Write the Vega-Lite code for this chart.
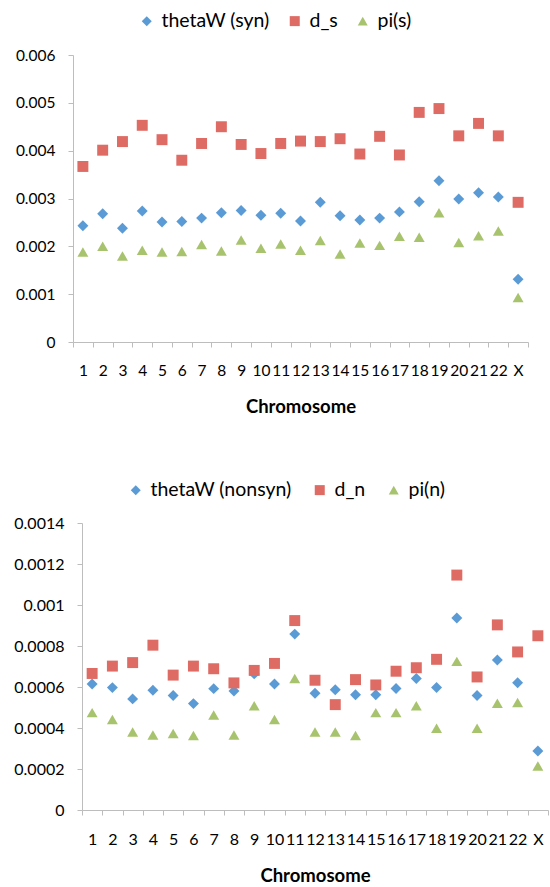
{
  "$schema": "https://vega.github.io/schema/vega-lite/v6.json",
  "padding": {"top": 11, "left": 13, "right": 0, "bottom": 0},
  "background": "white",
  "spacing": 64,
  "bounds": "full",
  "center": false,
  "datasets": {
    "syn": [
      {"chr": "1", "series": "thetaW (syn)", "value": 0.00243},
      {"chr": "2", "series": "thetaW (syn)", "value": 0.00268},
      {"chr": "3", "series": "thetaW (syn)", "value": 0.00238},
      {"chr": "4", "series": "thetaW (syn)", "value": 0.00274},
      {"chr": "5", "series": "thetaW (syn)", "value": 0.00251},
      {"chr": "6", "series": "thetaW (syn)", "value": 0.00252},
      {"chr": "7", "series": "thetaW (syn)", "value": 0.00259},
      {"chr": "8", "series": "thetaW (syn)", "value": 0.0027},
      {"chr": "9", "series": "thetaW (syn)", "value": 0.00275},
      {"chr": "10", "series": "thetaW (syn)", "value": 0.00265},
      {"chr": "11", "series": "thetaW (syn)", "value": 0.00269},
      {"chr": "12", "series": "thetaW (syn)", "value": 0.00253},
      {"chr": "13", "series": "thetaW (syn)", "value": 0.00292},
      {"chr": "14", "series": "thetaW (syn)", "value": 0.00264},
      {"chr": "15", "series": "thetaW (syn)", "value": 0.00255},
      {"chr": "16", "series": "thetaW (syn)", "value": 0.00259},
      {"chr": "17", "series": "thetaW (syn)", "value": 0.00272},
      {"chr": "18", "series": "thetaW (syn)", "value": 0.00293},
      {"chr": "19", "series": "thetaW (syn)", "value": 0.00337},
      {"chr": "20", "series": "thetaW (syn)", "value": 0.00299},
      {"chr": "21", "series": "thetaW (syn)", "value": 0.00312},
      {"chr": "22", "series": "thetaW (syn)", "value": 0.00303},
      {"chr": "X", "series": "thetaW (syn)", "value": 0.00131},
      {"chr": "1", "series": "d_s", "value": 0.00367},
      {"chr": "2", "series": "d_s", "value": 0.00401},
      {"chr": "3", "series": "d_s", "value": 0.00419},
      {"chr": "4", "series": "d_s", "value": 0.00453},
      {"chr": "5", "series": "d_s", "value": 0.00423},
      {"chr": "6", "series": "d_s", "value": 0.0038},
      {"chr": "7", "series": "d_s", "value": 0.00415},
      {"chr": "8", "series": "d_s", "value": 0.0045},
      {"chr": "9", "series": "d_s", "value": 0.00413},
      {"chr": "10", "series": "d_s", "value": 0.00394},
      {"chr": "11", "series": "d_s", "value": 0.00415},
      {"chr": "12", "series": "d_s", "value": 0.0042},
      {"chr": "13", "series": "d_s", "value": 0.00419},
      {"chr": "14", "series": "d_s", "value": 0.00425},
      {"chr": "15", "series": "d_s", "value": 0.00393},
      {"chr": "16", "series": "d_s", "value": 0.0043},
      {"chr": "17", "series": "d_s", "value": 0.00391},
      {"chr": "18", "series": "d_s", "value": 0.0048},
      {"chr": "19", "series": "d_s", "value": 0.00488},
      {"chr": "20", "series": "d_s", "value": 0.00431},
      {"chr": "21", "series": "d_s", "value": 0.00457},
      {"chr": "22", "series": "d_s", "value": 0.00431},
      {"chr": "X", "series": "d_s", "value": 0.00292},
      {"chr": "1", "series": "pi(s)", "value": 0.00188},
      {"chr": "2", "series": "pi(s)", "value": 0.002},
      {"chr": "3", "series": "pi(s)", "value": 0.0018},
      {"chr": "4", "series": "pi(s)", "value": 0.00192},
      {"chr": "5", "series": "pi(s)", "value": 0.00188},
      {"chr": "6", "series": "pi(s)", "value": 0.00189},
      {"chr": "7", "series": "pi(s)", "value": 0.00204},
      {"chr": "8", "series": "pi(s)", "value": 0.0019},
      {"chr": "9", "series": "pi(s)", "value": 0.00213},
      {"chr": "10", "series": "pi(s)", "value": 0.00196},
      {"chr": "11", "series": "pi(s)", "value": 0.00205},
      {"chr": "12", "series": "pi(s)", "value": 0.00192},
      {"chr": "13", "series": "pi(s)", "value": 0.00212},
      {"chr": "14", "series": "pi(s)", "value": 0.00184},
      {"chr": "15", "series": "pi(s)", "value": 0.00207},
      {"chr": "16", "series": "pi(s)", "value": 0.00202},
      {"chr": "17", "series": "pi(s)", "value": 0.00221},
      {"chr": "18", "series": "pi(s)", "value": 0.00219},
      {"chr": "19", "series": "pi(s)", "value": 0.0027},
      {"chr": "20", "series": "pi(s)", "value": 0.00208},
      {"chr": "21", "series": "pi(s)", "value": 0.00222},
      {"chr": "22", "series": "pi(s)", "value": 0.00232},
      {"chr": "X", "series": "pi(s)", "value": 0.00093}
    ],
    "nonsyn": [
      {"chr": "1", "series": "thetaW (nonsyn)", "value": 0.000615},
      {"chr": "2", "series": "thetaW (nonsyn)", "value": 0.000597},
      {"chr": "3", "series": "thetaW (nonsyn)", "value": 0.000542},
      {"chr": "4", "series": "thetaW (nonsyn)", "value": 0.000584},
      {"chr": "5", "series": "thetaW (nonsyn)", "value": 0.000559},
      {"chr": "6", "series": "thetaW (nonsyn)", "value": 0.000519},
      {"chr": "7", "series": "thetaW (nonsyn)", "value": 0.000592},
      {"chr": "8", "series": "thetaW (nonsyn)", "value": 0.00058},
      {"chr": "9", "series": "thetaW (nonsyn)", "value": 0.000664},
      {"chr": "10", "series": "thetaW (nonsyn)", "value": 0.000615},
      {"chr": "11", "series": "thetaW (nonsyn)", "value": 0.000858},
      {"chr": "12", "series": "thetaW (nonsyn)", "value": 0.00057},
      {"chr": "13", "series": "thetaW (nonsyn)", "value": 0.000587},
      {"chr": "14", "series": "thetaW (nonsyn)", "value": 0.000562},
      {"chr": "15", "series": "thetaW (nonsyn)", "value": 0.000562},
      {"chr": "16", "series": "thetaW (nonsyn)", "value": 0.000593},
      {"chr": "17", "series": "thetaW (nonsyn)", "value": 0.000641},
      {"chr": "18", "series": "thetaW (nonsyn)", "value": 0.000598},
      {"chr": "19", "series": "thetaW (nonsyn)", "value": 0.000937},
      {"chr": "20", "series": "thetaW (nonsyn)", "value": 0.000559},
      {"chr": "21", "series": "thetaW (nonsyn)", "value": 0.000732},
      {"chr": "22", "series": "thetaW (nonsyn)", "value": 0.000621},
      {"chr": "X", "series": "thetaW (nonsyn)", "value": 0.000288},
      {"chr": "1", "series": "d_n", "value": 0.000666},
      {"chr": "2", "series": "d_n", "value": 0.000702},
      {"chr": "3", "series": "d_n", "value": 0.000719},
      {"chr": "4", "series": "d_n", "value": 0.000804},
      {"chr": "5", "series": "d_n", "value": 0.000658},
      {"chr": "6", "series": "d_n", "value": 0.000702},
      {"chr": "7", "series": "d_n", "value": 0.000689},
      {"chr": "8", "series": "d_n", "value": 0.00062},
      {"chr": "9", "series": "d_n", "value": 0.000681},
      {"chr": "10", "series": "d_n", "value": 0.000715},
      {"chr": "11", "series": "d_n", "value": 0.000924},
      {"chr": "12", "series": "d_n", "value": 0.000633},
      {"chr": "13", "series": "d_n", "value": 0.000514},
      {"chr": "14", "series": "d_n", "value": 0.000636},
      {"chr": "15", "series": "d_n", "value": 0.00061},
      {"chr": "16", "series": "d_n", "value": 0.000677},
      {"chr": "17", "series": "d_n", "value": 0.000694},
      {"chr": "18", "series": "d_n", "value": 0.000735},
      {"chr": "19", "series": "d_n", "value": 0.001146},
      {"chr": "20", "series": "d_n", "value": 0.000649},
      {"chr": "21", "series": "d_n", "value": 0.000903},
      {"chr": "22", "series": "d_n", "value": 0.000771},
      {"chr": "X", "series": "d_n", "value": 0.00085},
      {"chr": "1", "series": "pi(n)", "value": 0.000475},
      {"chr": "2", "series": "pi(n)", "value": 0.000442},
      {"chr": "3", "series": "pi(n)", "value": 0.00038},
      {"chr": "4", "series": "pi(n)", "value": 0.000366},
      {"chr": "5", "series": "pi(n)", "value": 0.000373},
      {"chr": "6", "series": "pi(n)", "value": 0.000363},
      {"chr": "7", "series": "pi(n)", "value": 0.000463},
      {"chr": "8", "series": "pi(n)", "value": 0.000366},
      {"chr": "9", "series": "pi(n)", "value": 0.000508},
      {"chr": "10", "series": "pi(n)", "value": 0.000442},
      {"chr": "11", "series": "pi(n)", "value": 0.000641},
      {"chr": "12", "series": "pi(n)", "value": 0.00038},
      {"chr": "13", "series": "pi(n)", "value": 0.00038},
      {"chr": "14", "series": "pi(n)", "value": 0.000363},
      {"chr": "15", "series": "pi(n)", "value": 0.000475},
      {"chr": "16", "series": "pi(n)", "value": 0.000475},
      {"chr": "17", "series": "pi(n)", "value": 0.000508},
      {"chr": "18", "series": "pi(n)", "value": 0.000399},
      {"chr": "19", "series": "pi(n)", "value": 0.000725},
      {"chr": "20", "series": "pi(n)", "value": 0.000399},
      {"chr": "21", "series": "pi(n)", "value": 0.000521},
      {"chr": "22", "series": "pi(n)", "value": 0.000524},
      {"chr": "X", "series": "pi(n)", "value": 0.000215}
    ]
  },
  "vconcat": [
    {
      "data": {"name": "syn"},
      "width": 446,
      "height": 287,
      "mark": {"type": "point", "filled": true, "opacity": 1, "size": 120},
      "encoding": {
        "x": {
          "field": "chr", "type": "nominal", "sort": null,
          "scale": {"type": "band", "paddingInner": 0, "paddingOuter": 0, "range": [-9, 446]},
          "axis": {"title": "Chromosome", "tickBand": "extent", "labelFontSize": 15.5, "labelPadding": 16, "titlePadding": 19}
        },
        "y": {
          "field": "value", "type": "quantitative",
          "scale": {"domain": [0, 0.006], "nice": false, "zero": true},
          "axis": {"title": null, "offset": 9, "values": [0, 0.001, 0.002, 0.003, 0.004, 0.005, 0.006], "format": "~g", "labelFontSize": 15.5}
        },
        "color": {
          "field": "series", "type": "nominal", "sort": null,
          "scale": {"domain": ["thetaW (syn)", "d_s", "pi(s)"], "range": ["#5B9BD5", "#DE6B64", "#A8C36E"]},
          "legend": {"title": null, "orient": "none", "direction": "horizontal", "legendX": 55, "legendY": -44, "columnPadding": 15}
        },
        "shape": {
          "field": "series", "type": "nominal", "sort": null,
          "scale": {"domain": ["thetaW (syn)", "d_s", "pi(s)"], "range": ["diamond", "square", "triangle-up"]},
          "legend": {"title": null, "orient": "none", "direction": "horizontal", "legendX": 55, "legendY": -44, "columnPadding": 15}
        }
      }
    },
    {
      "data": {"name": "nonsyn"},
      "width": 466,
      "height": 287,
      "mark": {"type": "point", "filled": true, "opacity": 1, "size": 120},
      "encoding": {
        "x": {
          "field": "chr", "type": "nominal", "sort": null,
          "scale": {"type": "band", "paddingInner": 0, "paddingOuter": 0},
          "axis": {"title": "Chromosome", "tickBand": "extent", "labelFontSize": 16, "labelPadding": 16, "titlePadding": 19}
        },
        "y": {
          "field": "value", "type": "quantitative",
          "scale": {"domain": [0, 0.0014], "nice": false, "zero": true},
          "axis": {"title": null, "values": [0, 0.0002, 0.0004, 0.0006, 0.0008, 0.001, 0.0012, 0.0014], "format": "~g", "labelFontSize": 16}
        },
        "color": {
          "field": "series", "type": "nominal", "sort": null,
          "scale": {"domain": ["thetaW (nonsyn)", "d_n", "pi(n)"], "range": ["#5B9BD5", "#DE6B64", "#A8C36E"]},
          "legend": {"title": null, "orient": "none", "direction": "horizontal", "legendX": 44, "legendY": -43, "columnPadding": 18}
        },
        "shape": {
          "field": "series", "type": "nominal", "sort": null,
          "scale": {"domain": ["thetaW (nonsyn)", "d_n", "pi(n)"], "range": ["diamond", "square", "triangle-up"]},
          "legend": {"title": null, "orient": "none", "direction": "horizontal", "legendX": 44, "legendY": -43, "columnPadding": 18}
        }
      }
    }
  ],
  "resolve": {
    "scale": {"color": "independent", "shape": "independent", "x": "independent", "y": "independent"},
    "legend": {"color": "independent", "shape": "independent"}
  },
  "config": {
    "view": {"stroke": null},
    "font": "Lato",
    "axis": {
      "grid": false,
      "domainColor": "#BDBDBD",
      "tickColor": "#BDBDBD",
      "tickSize": 5,
      "labelFont": "Lato",
      "labelColor": "#000000",
      "labelAngle": 0,
      "labelOverlap": false,
      "titleFont": "Lato",
      "titleFontSize": 18.5,
      "titleFontWeight": "bold",
      "titleColor": "#000000"
    },
    "axisY": {"labelPadding": 13},
    "legend": {
      "labelFont": "Lato",
      "labelFontSize": 19.5,
      "labelColor": "#000000",
      "symbolSize": 100,
      "labelOffset": 5,
      "symbolStrokeWidth": 0
    }
  }
}
